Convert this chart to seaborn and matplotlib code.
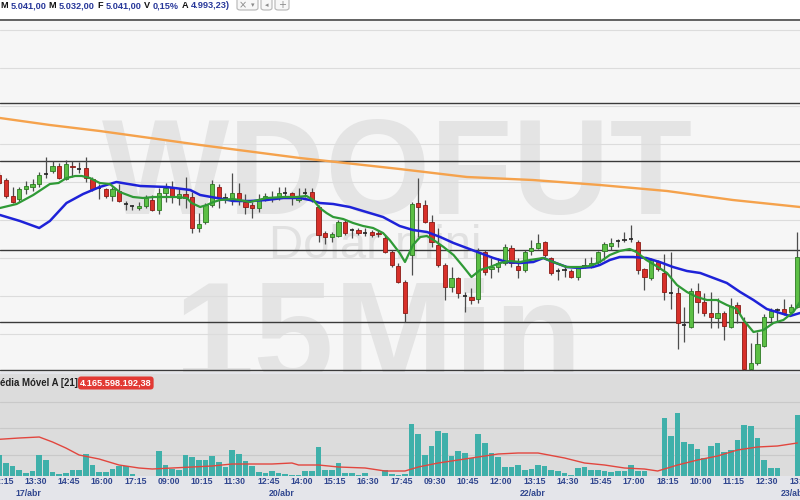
import matplotlib
matplotlib.use("Agg")
import matplotlib.pyplot as plt
import matplotlib.transforms as mtransforms
from matplotlib.patches import FancyBboxPatch, Rectangle
from matplotlib.lines import Line2D
import numpy as np
import seaborn as sns

# ---- data: WDOFUT 15 min candles, index 0 = 17/abr 12:45 ----
candle_idx = list(range(-1, 120))
opens = [5082.5, 5080, 5072, 5070.5, 5075.5, 5076.5, 5078, 5083, 5084.5, 5087, 5080.5,
         5087, 5085.5, 5086, 5080.5, 5076, 5075.5, 5072, 5074.5, 5068, 5067,
         5066, 5067, 5070, 5065, 5073.5, 5076.5, 5071, 5073, 5071.5, 5056,
         5059, 5067.5, 5076.5, 5071, 5070.5, 5073.5, 5069, 5067.5, 5066, 5071,
         5071, 5071, 5073.5, 5073.5, 5070, 5073.5, 5074, 5066.5, 5053.5, 5051.5,
         5052, 5059, 5055, 5055, 5053.5, 5054, 5053.5, 5051, 5044, 5037,
         5029, 5042.5, 5068.5, 5067.5, 5059, 5047.5, 5037.5, 5026.5, 5031, 5022,
         5021.5, 5020.5, 5044, 5035.5, 5036.5, 5038.5, 5046, 5037, 5035, 5044.5,
         5046, 5049, 5041, 5034.5, 5035, 5034.5, 5031.5, 5037, 5037, 5039,
         5044.5, 5047, 5049.5, 5050, 5050.5, 5049, 5035.5, 5031, 5039, 5033.5,
         5023.5, 5023.5, 5007.5, 5006.5, 5024.5, 5019, 5013.5, 5011, 5013.5, 5006.5,
         5017.5, 5009, 4985.5, 4988.5, 4997, 5011.5, 5015, 5015.5, 5014, 5016.5]
highs = [5084, 5081, 5076.5, 5076.5, 5079.5, 5080.5, 5084, 5091.5, 5089.5, 5088.5, 5090,
         5089.5, 5089, 5091.5, 5081.5, 5078, 5076, 5076.5, 5078, 5069.5, 5067.5,
         5069, 5072.5, 5072.5, 5076, 5078.5, 5079.5, 5076, 5081.5, 5074, 5063.5,
         5068.5, 5080, 5078, 5073.5, 5083.5, 5078.5, 5073, 5069, 5073, 5073.5,
         5074.5, 5076.5, 5076.5, 5074, 5076, 5076, 5076, 5067.5, 5054.5, 5054,
         5060, 5060, 5056, 5056, 5056, 5055, 5055, 5052.5, 5045, 5038.5,
         5030, 5069, 5081, 5070, 5062.5, 5056, 5038.5, 5036.5, 5031.5, 5024,
         5026, 5046, 5045, 5041, 5041, 5048, 5047.5, 5041, 5045, 5050,
         5053, 5049.5, 5041.5, 5036, 5037.5, 5035.5, 5037, 5041, 5041.5, 5044.5,
         5049, 5051, 5050.5, 5054, 5057.5, 5050, 5036, 5041, 5040, 5043,
         5044, 5026.5, 5016.5, 5026, 5028.5, 5023.5, 5024, 5021, 5014.5, 5021,
         5019, 5011.5, 4998.5, 5004, 5013, 5016, 5016, 5020.5, 5018, 5054]
lows = [5077.5, 5071, 5068.5, 5069, 5073, 5074.5, 5076.5, 5081, 5083.5, 5080.5, 5080,
        5081.5, 5083.5, 5079, 5074.5, 5070.5, 5071, 5069.5, 5069, 5065, 5065,
        5065, 5066, 5064.5, 5063, 5069, 5068.5, 5067.5, 5066, 5053.5, 5054,
        5058, 5066.5, 5066, 5068.5, 5067.5, 5067.5, 5063, 5061, 5064, 5069.5,
        5069, 5070, 5071, 5067.5, 5069, 5071.5, 5069, 5049, 5048, 5049,
        5051.5, 5052.5, 5051, 5052.5, 5052, 5051.5, 5051.5, 5043.5, 5036.5, 5028.5,
        5009, 5032.5, 5051.5, 5058.5, 5046.5, 5036.5, 5020, 5024, 5021, 5014,
        5018, 5018.5, 5032.5, 5031, 5034, 5037.5, 5036.5, 5031, 5034, 5042.5,
        5045.5, 5041.5, 5032.5, 5030, 5031.5, 5031, 5030, 5036, 5036, 5037.5,
        5040, 5045, 5046.5, 5049, 5049, 5033, 5025, 5030, 5034.5, 5020,
        5015.5, 4995.5, 4999, 5006, 5013.5, 5012, 5006, 5006, 5000, 5006,
        5008.5, 4985, 4985, 4987.5, 4996.5, 5009, 5009, 5012.5, 5012.5, 5016]
closes = [5078.5, 5072, 5069, 5075.5, 5077, 5078, 5082.5, 5083, 5087, 5081, 5088,
          5086.5, 5085.5, 5081, 5075.5, 5076, 5072, 5075.5, 5069.5, 5068, 5067,
          5067, 5071, 5065, 5073.5, 5076, 5071.5, 5073, 5071, 5056, 5058,
          5067.5, 5078, 5071, 5071, 5073.5, 5070.5, 5066.5, 5066, 5070, 5072,
          5071, 5073.5, 5073.5, 5071, 5072, 5073.5, 5070, 5052.5, 5051.5, 5053,
          5059, 5053.5, 5055, 5053.5, 5053.5, 5052.5, 5053, 5044, 5037.5, 5029,
          5013.5, 5068, 5066.5, 5059, 5049, 5037.5, 5026.5, 5031, 5023.5, 5022,
          5020, 5044, 5034, 5036.5, 5038.5, 5046.5, 5038.5, 5035, 5044, 5046,
          5048.5, 5042.5, 5033.5, 5034.5, 5035, 5031.5, 5036.5, 5037, 5038.5, 5044,
          5048, 5048.5, 5049.5, 5050, 5050.5, 5035, 5031.5, 5040, 5035.5, 5024,
          5023.5, 5008.5, 5007.5, 5024.5, 5019, 5013.5, 5011.5, 5013.5, 5007, 5017,
          5013.5, 4985.5, 4988.5, 4998, 5011.5, 5014.5, 5015, 5013.5, 5016.5, 5041.5]
# volume (thousand contracts)
volumes = [20.7, 13, 9.7, 5.7, 3.3, 4.7, 20.7, 16.3, 3.7, 2.3, 3,
           6.3, 5.7, 22.3, 10.7, 4, 4, 7.3, 9.7, 10, 1.7,
           0.3, 0.3, 0.3, 24.7, 10.7, 7.3, 5.7, 20.7, 19, 16.3,
           16.3, 20, 13.7, 9, 25.7, 22.3, 14.7, 10, 4, 3.3,
           5, 3, 1.7, 0.7, 0.7, 5, 5, 28.7, 5.7, 6.3,
           13.3, 3, 3.3, 0.7, 3, 0.3, 0.3, 5.7, 2.3, 0.7,
           1.7, 51.7, 42.3, 20.7, 30, 45, 43.3, 19.7, 24.7, 23.3,
           18, 42, 33.3, 23.3, 19, 9, 9, 11.3, 6.3, 6.7,
           11.3, 9.7, 6.3, 4.7, 3, 0.7, 8, 9, 5.7, 5.7,
           4.7, 3.7, 4.7, 4.7, 10.7, 4.7, 4.7, 0.3, 0.3, 58.3,
           39.7, 63.3, 34, 32.3, 27.3, 18.3, 29.7, 33, 24, 26.3,
           35.7, 50.7, 49.7, 38, 15.7, 8, 8, 0.3, 0.3, 60.7]

# moving averages (candle index, value)
ma_fast_idx = [-0.9, 1.6, 4.1, 6.6, 7.9, 9.1, 10.4, 11.4, 12.6, 14.1, 15.6, 17.1, 19.1, 20.6,
               22.2, 24.2, 25.7, 27.2, 27.9, 29.2, 30.2, 31.2, 32.2, 34.2, 36.7, 39.2, 41.7,
               43.7, 45.2, 46.2, 47.2, 48.2, 49.2, 50.7, 52.2, 53.7, 55.2, 56.7, 57.7, 59.2,
               60.0, 61.2, 62.3, 63.3, 64.3, 65.8, 67.3, 68.8, 70.0, 71.3, 72.8, 74.3, 75.8,
               77.3, 78.8, 80.8, 82.3, 84.3, 86.3, 87.8, 89.3, 90.8, 92.3, 93.8, 94.8, 96.3,
               97.8, 99.4, 100.9, 102.4, 103.9, 105.4, 106.9, 108.4, 109.9, 110.9, 112.4,
               113.9, 115.4, 116.9, 118.4, 119.4]
ma_fast = [5066, 5068, 5072.5, 5078, 5078.5, 5081, 5082, 5082, 5081, 5078.5, 5078, 5074, 5071.5,
           5071, 5071.5, 5071.5, 5071.5, 5071, 5068.5, 5066.5, 5067.5, 5069, 5070, 5070.5, 5069,
           5071, 5071.5, 5071.5, 5072, 5070, 5066, 5063.5, 5061.5, 5060.5, 5058.5, 5057, 5056,
           5053.5, 5050, 5043.5, 5039, 5047.5, 5051.5, 5052, 5050, 5046.5, 5042.5, 5036.5,
           5031.5, 5035, 5036.5, 5038.5, 5039.5, 5039, 5040, 5041, 5039, 5036.5, 5036.5, 5037,
           5039, 5042.5, 5044.5, 5045.5, 5044, 5040, 5037, 5033.5, 5027.5, 5024, 5021.5, 5020,
           5020, 5017.5, 5015.5, 5010, 5004, 5005, 5008.5, 5010, 5014, 5019]
ma_mid_idx = [-0.9, 2.1, 5.0, 6.6, 9.1, 11.6, 14.1, 16.6, 20.2, 24.2, 27.7, 29.2, 31.7, 34.2,
              36.7, 39.2, 41.7, 44.2, 45.7, 47.2, 49.2, 51.7, 54.2, 56.7, 59.2, 61.2, 63.3,
              65.3, 67.3, 69.3, 71.3, 73.3, 75.3, 77.3, 79.3, 80.8, 82.3, 84.3, 86.3, 88.3,
              89.3, 90.8, 92.3, 94.3, 96.3, 98.3, 100.3, 102.4, 104.4, 106.4, 108.4, 110.4,
              112.4, 114.4, 116.4, 117.9, 119.4]
ma_mid = [5062.5, 5059.5, 5056, 5059.5, 5068.5, 5073, 5076.5, 5079, 5077, 5076.5, 5075, 5072.5,
          5071, 5069.5, 5069.5, 5070, 5071, 5071, 5070, 5068.5, 5068, 5066.5, 5064, 5061.5,
          5057, 5055, 5054, 5051.5, 5048.5, 5046, 5043.5, 5041, 5039, 5038.5, 5039, 5041,
          5039, 5036.5, 5036, 5036.5, 5037.5, 5040, 5041.5, 5041.5, 5041, 5039, 5036.5,
          5034.5, 5033.5, 5031, 5028.5, 5024, 5020, 5015.5, 5013.5, 5012, 5013.5]
ma_slow_idx = [-0.9, 6.6, 14.1, 21.7, 29.2, 44.2, 59.2, 69.3, 79.2, 89.3, 99.4, 109.3, 119.4]
ma_slow = [5111, 5107.5, 5104.5, 5101, 5097.5, 5091, 5085.5, 5081.5, 5080, 5077.5, 5074.5,
           5070, 5066.5]
vol_ma_idx = [-1, 2, 5, 7, 9, 11, 14, 17, 20, 22, 25, 28, 31, 34, 37, 40, 43, 44, 47, 50, 54,
              57, 60, 62, 65, 68, 71, 74, 77, 80, 84, 87, 90, 93, 96, 98, 101, 104, 107, 110,
              113, 116, 119]
vol_ma = [36.7, 38, 39, 34, 28, 21, 17, 11, 8, 7, 8, 9, 10, 12, 12, 12, 13, 11, 11, 9, 8,
          5, 5, 9, 13, 16, 19, 22, 23, 23, 18, 13, 11, 8, 7, 5, 11, 16, 20, 26, 29, 30, 33]

resistance_levels = [5118.5, 5089.5, 5045, 5009, 4985]
grid_levels = [5155, 5136, 5117, 5098, 5079, 5060, 5041, 5022, 5003]

time_labels = ["12:15", "13:30", "14:45", "16:00", "17:15", "09:00", "10:15", "11:30", "12:45",
               "14:00", "15:15", "16:30", "17:45", "09:30", "10:45", "12:00", "13:15", "14:30",
               "15:45", "17:00", "18:15", "10:00", "11:15", "12:30", "13:45"]
time_label_idx = list(range(-2, 119, 5))
date_labels = ["17/abr", "20/abr", "22/abr", "23/abr"]
date_label_idx = [3.3, 41.4, 79.2, 118.4]

header_parts = [("M", "k"), ("5.041,00", "n"), ("M", "k"), ("5.032,00", "n"), ("F", "k"),
                ("5.041,00", "n"), ("V", "k"), ("0,15%", "n"), ("A", "k"), ("4.993,23)", "n")]

# ---- style ----
sns.set_theme(style="white")
plt.rcParams["font.family"] = ["Liberation Sans", "DejaVu Sans"]

W, H = 800, 500


def fy(px):
    return 1 - px / H


fig = plt.figure(figsize=(8, 5), dpi=100, facecolor="#e4e5ea")
fig.add_artist(Rectangle((0, fy(21)), 1, 21 / H, transform=fig.transFigure,
                         facecolor="white", edgecolor="none", zorder=0))
fig.add_artist(Line2D([0, 1], [fy(20), fy(20)], transform=fig.transFigure,
                      color="#555555", lw=1.3))

ax_p = fig.add_axes([0, fy(372), 1, (372 - 21) / H])
ax_v = fig.add_axes([0, fy(476), 1, (476 - 374) / H])

idx = np.array(candle_idx)
o, h, l, c = map(np.array, (opens, highs, lows, closes))

# price panel
ax_p.set_facecolor("#f6f6f6")
for g in grid_levels:
    ax_p.axhline(g, color="#dcdcdc", lw=0.8, zorder=1)
for r in resistance_levels:
    ax_p.axhline(r, color="#3a3a3a", lw=1.0, zorder=2)

wm = dict(color="#e4e4e4", weight="bold", zorder=0.5, transform=ax_p.transAxes, clip_on=True)
ax_p.text(0.497, (372 - 214) / 351, "WDOFUT", fontsize=97, ha="center", va="baseline", **wm)
ax_p.text(0.473, (372 - 383) / 351, "15Min", fontsize=104, ha="center", va="baseline", **wm)
ax_p.text(0.469, (372 - 246) / 351, "Dolar mini", fontsize=34, ha="center", va="center",
          color="#e1e1e1", zorder=0.5, transform=ax_p.transAxes)

ax_p.vlines(idx, l, h, color="#4d4d4d", lw=0.9, zorder=3)
up = c > o
dn = c < o
dj = c == o
ax_p.bar(idx[up], (c - o)[up], bottom=o[up], width=0.64, color="#5cbf45",
         edgecolor="#2c7a22", lw=0.6, zorder=4)
ax_p.bar(idx[dn], (o - c)[dn], bottom=c[dn], width=0.64, color="#d8302a",
         edgecolor="#8a1a14", lw=0.6, zorder=4)
ax_p.hlines(o[dj], idx[dj] - 0.32, idx[dj] + 0.32, color="#222222", lw=1.2, zorder=4)

sns.lineplot(x=ma_slow_idx, y=ma_slow, ax=ax_p, color="#f5a24c", lw=1.7, zorder=5)
sns.lineplot(x=ma_mid_idx, y=ma_mid, ax=ax_p, color="#1e22d8", lw=1.8, zorder=6)
sns.lineplot(x=ma_fast_idx, y=ma_fast, ax=ax_p, color="#2f9a36", lw=1.6, zorder=6)

ax_p.set_xlim(-0.9, 119.4)
ax_p.set_ylim(4984, 5159.5)

# volume panel
ax_v.set_facecolor("#dcdcdc")
for g in [21, 48, 74]:
    ax_v.axhline(g, color="#c9c9c9", lw=0.8, zorder=1)
sns.barplot(x=candle_idx, y=volumes, native_scale=True, orient="x", ax=ax_v,
            color="#3fb0aa", saturation=1, width=0.85, linewidth=0, zorder=2)
sns.lineplot(x=vol_ma_idx, y=vol_ma, ax=ax_v, color="#e2463e", lw=1.0, zorder=3)
ax_v.set_xlim(-0.9, 119.4)
ax_v.set_ylim(0, 102)

for ax in (ax_p, ax_v):
    ax.set_xticks([])
    ax.set_yticks([])
    ax.set_xlabel("")
    ax.set_ylabel("")
    for s in ax.spines.values():
        s.set_visible(False)

# volume header
fig.text(-8.5 / W, fy(383), "Média Móvel A [21]", fontsize=6.9, weight="bold",
         color="#222222", va="center", ha="left")
fig.text(80 / W, fy(383), "4.165.598.192,38", fontsize=6.6, weight="bold", color="white",
         va="center", ha="left",
         bbox=dict(boxstyle="round,pad=0.22,rounding_size=0.35", fc="#e23a34", ec="none"))

# time axis
trans = mtransforms.blended_transform_factory(ax_v.transData, fig.transFigure)
for k, lab in zip(time_label_idx, time_labels):
    ax_v.text(k - 0.25, fy(481.5), lab, transform=trans, ha="left", va="center",
              fontsize=6.3, weight="bold", color="#30468f", clip_on=False)
for k, lab in zip(date_label_idx, date_labels):
    ax_v.text(k, fy(494), lab, transform=trans, ha="center", va="center",
              fontsize=6.3, weight="bold", color="#30468f", clip_on=False)

# top header line
fig.canvas.draw()
renderer = fig.canvas.get_renderer()
x = 0.0
for txt, col in header_parts:
    t = fig.text(x / W, fy(6), txt, fontsize=6.6, weight="bold", va="center", ha="left",
                 color="#111111" if col == "k" else "#28389a")
    x += t.get_window_extent(renderer).width + 2.6

btn = dict(transform=fig.transFigure, facecolor="#f7f7f7", edgecolor="#b5b5b5", lw=0.8)
fig.add_artist(FancyBboxPatch((237 / W, fy(10)), 21 / W, 13 / H,
                              boxstyle="round,pad=0,rounding_size=0.004", **btn))
fig.add_artist(FancyBboxPatch((261 / W, fy(10)), 11 / W, 13 / H,
                              boxstyle="round,pad=0,rounding_size=0.004", **btn))
fig.add_artist(FancyBboxPatch((275 / W, fy(10)), 14 / W, 13 / H,
                              boxstyle="round,pad=0,rounding_size=0.004", **btn))
fig.text(243 / W, fy(5), "×", fontsize=7, color="#8a8a8a", ha="center", va="center",
         family=["DejaVu Sans"])
fig.text(252.5 / W, fy(5), "▾", fontsize=5, color="#8a8a8a", ha="center", va="center",
         family=["DejaVu Sans"])
fig.text(266.5 / W, fy(5), "◂", fontsize=5, color="#8a8a8a", ha="center", va="center",
         family=["DejaVu Sans"])
fig.text(282 / W, fy(5), "+", fontsize=7, color="#8a8a8a", ha="center", va="center",
         family=["DejaVu Sans"])

fig.savefig("out.png", dpi=100, facecolor=fig.get_facecolor())
